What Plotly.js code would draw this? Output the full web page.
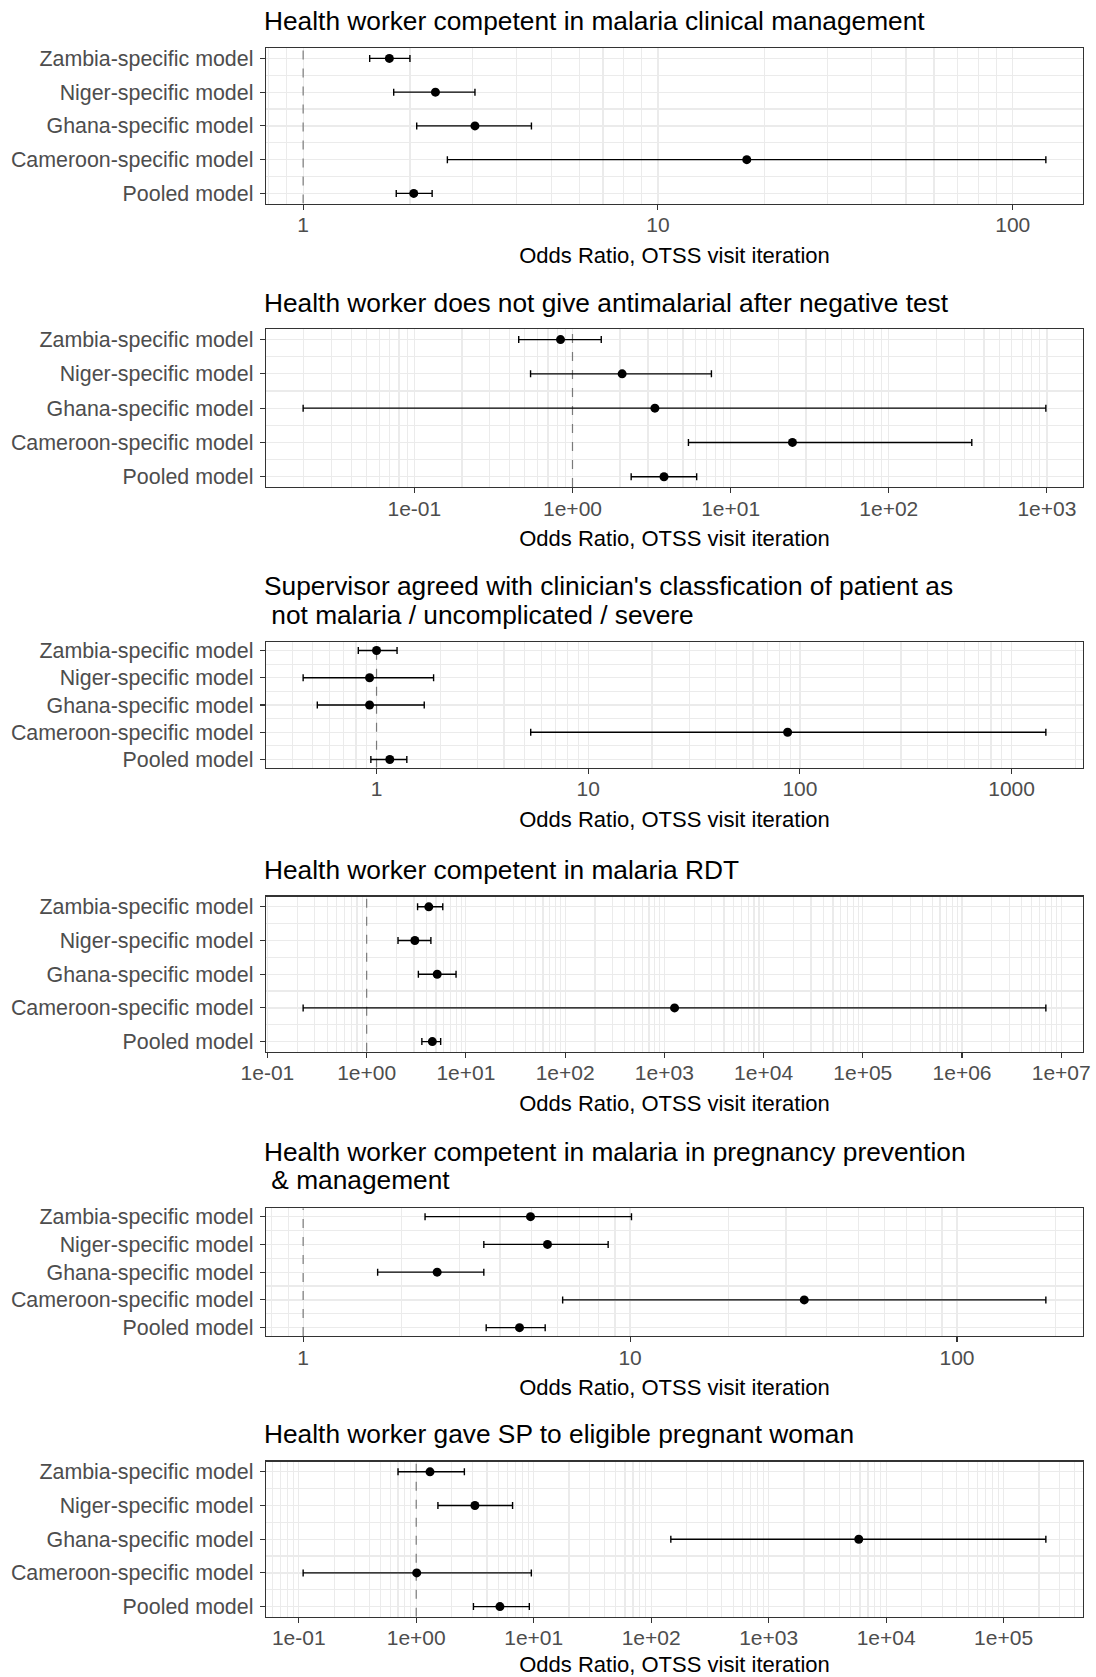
<!DOCTYPE html>
<html>
<head>
<meta charset="utf-8">
<script src="https://cdn.plot.ly/plotly-3.0.1.min.js"></script>
<style>html,body{margin:0;padding:0;background:#fff;}#chart{width:1096px;height:1677px;}</style>
</head>
<body>
<div id="chart"></div>
<script>
// ---------- DATA ----------
const categories = ["Zambia-specific model", "Niger-specific model", "Ghana-specific model", "Cameroon-specific model", "Pooled model"];

const title1 = ["Health worker competent in malaria clinical management"];
const title2 = ["Health worker does not give antimalarial after negative test"];
const title3 = ["Supervisor agreed with clinician's classfication of patient as", " not malaria / uncomplicated / severe"];
const title4 = ["Health worker competent in malaria RDT"];
const title5 = ["Health worker competent in malaria in pregnancy prevention", " & management"];
const title6 = ["Health worker gave SP to eligible pregnant woman"];

const or1 = [1.75, 2.36, 3.05, 17.8, 2.05];
const lo1 = [1.54, 1.80, 2.09, 2.55, 1.83];
const hi1 = [2.00, 3.05, 4.40, 124, 2.31];

const or2 = [0.84, 2.06, 3.32, 24.6, 3.79];
const lo2 = [0.457, 0.543, 0.0198, 5.41, 2.35];
const hi2 = [1.52, 7.56, 985, 335, 6.1];

const or3 = [1.0, 0.927, 0.927, 87.5, 1.155];
const lo3 = [0.82, 0.45, 0.525, 5.35, 0.94];
const hi3 = [1.25, 1.86, 1.68, 1452, 1.39];

const or4 = [4.23, 3.06, 5.14, 1268, 4.59];
const lo4 = [3.26, 2.07, 3.32, 0.229, 3.6];
const hi4 = [5.85, 4.44, 7.96, 7.0e6, 5.57];

const or5 = [4.96, 5.59, 2.57, 34.1, 4.59];
const lo5 = [2.36, 3.57, 1.69, 6.22, 3.63];
const hi5 = [10.1, 8.57, 3.57, 187, 5.5];

const or6 = [1.31, 3.16, 5850, 1.01, 5.16];
const lo6 = [0.70, 1.53, 147, 0.109, 3.07];
const hi6 = [2.57, 6.61, 229000, 9.55, 9.18];

const ticks1 = ["1", "10", "100"];
const ticks2 = ["1e-01", "1e+00", "1e+01", "1e+02", "1e+03"];
const ticks3 = ["1", "10", "100", "1000"];
const ticks4 = ["1e-01", "1e+00", "1e+01", "1e+02", "1e+03", "1e+04", "1e+05", "1e+06", "1e+07"];
const ticks5 = ["1", "10", "100"];
const ticks6 = ["1e-01", "1e+00", "1e+01", "1e+02", "1e+03", "1e+04", "1e+05"];

const axisTitle = "Odds Ratio, OTSS visit iteration";
const refLine = 1;

// ---------- LAYOUT (pixel geometry) ----------
const W = 1096, H = 1677;
const boxLeft = 266, boxRight = 1083;
const panels = [
  {title: title1, or: or1, lo: lo1, hi: hi1, ticks: ticks1, top: 48.3, bot: 203.5, titleY: [21.5]},
  {title: title2, or: or2, lo: lo2, hi: hi2, ticks: ticks2, top: 329.3, bot: 487, titleY: [303.5]},
  {title: title3, or: or3, lo: lo3, hi: hi3, ticks: ticks3, top: 642.3, bot: 767.7, titleY: [586, 615]},
  {title: title4, or: or4, lo: lo4, hi: hi4, ticks: ticks4, top: 896.7, bot: 1051.7, titleY: [870.2]},
  {title: title5, or: or5, lo: lo5, hi: hi5, ticks: ticks5, top: 1208.3, bot: 1336, titleY: [1151.8, 1180.2]},
  {title: title6, or: or6, lo: lo6, hi: hi6, ticks: ticks6, top: 1461.7, bot: 1616.7, titleY: [1433.5]}
];

const FONT = "Liberation Sans, Arial, sans-serif";
const GRID = "#EBEBEB";
const DARK = "#333333";

const data = [];
const layout = {
  width: W, height: H,
  margin: {l: 0, r: 0, t: 0, b: 0, pad: 0},
  paper_bgcolor: "#ffffff", plot_bgcolor: "#ffffff",
  showlegend: false,
  font: {family: FONT, color: "#000000"},
  annotations: []
};

const yIdx = categories.map((c, i) => i);
const nCat = categories.length;
const yPad = 0.3;
const yRange = [nCat - 1 + yPad, -yPad];

panels.forEach((p, k) => {
  const n = k + 1;
  const xa = "x" + (n === 1 ? "" : n), ya = "y" + (n === 1 ? "" : n);
  const xKey = "xaxis" + (n === 1 ? "" : n), yKey = "yaxis" + (n === 1 ? "" : n);

  // ggplot-like range: data (incl. reference line) with 5% expansion in log space
  const lmin = Math.log10(Math.min(refLine, ...p.lo));
  const lmax = Math.log10(Math.max(refLine, ...p.hi));
  const ex = (lmax - lmin) * 0.05;
  const r0 = lmin - ex, r1 = lmax + ex;

  const minorVals = [];
  for (let d = Math.floor(r0); d <= Math.ceil(r1); d++) {
    for (let m = 1; m <= 9; m++) minorVals.push(m * Math.pow(10, d));
  }

  // dashed reference line at OR = 1 (drawn under the estimates, above the grid)
  data.push({
    type: "scatter", mode: "lines",
    x: [refLine, refLine], y: yRange, xaxis: xa, yaxis: ya,
    line: {color: "#7A7A7A", width: 1.2, dash: "dash"},
    hoverinfo: "skip", cliponaxis: true
  });

  data.push({
    type: "scatter", mode: "markers",
    x: p.or, y: yIdx, xaxis: xa, yaxis: ya,
    marker: {color: "#000000", size: 9},
    error_x: {
      type: "data", symmetric: false,
      array: p.hi.map((h, i) => h - p.or[i]),
      arrayminus: p.lo.map((l, i) => p.or[i] - l),
      color: "#000000", thickness: 1.4, width: 3.5
    },
    hoverinfo: "x+y"
  });

  layout[xKey] = {
    type: "log", range: [r0, r1],
    domain: [boxLeft / W, boxRight / W],
    anchor: ya,
    tickmode: "array", tickvals: p.ticks.map(Number), ticktext: p.ticks,
    ticks: "outside", ticklen: 5, tickwidth: 1.1, tickcolor: DARK,
    ticklabelstandoff: -3,
    tickfont: {family: FONT, size: 21, color: "#4D4D4D"},
    showgrid: true, gridcolor: GRID, gridwidth: 1.2,
    minor: {tickmode: "array", tickvals: minorVals, showgrid: true, gridcolor: GRID, gridwidth: 1.2, ticks: ""},
    showline: true, mirror: true, linecolor: DARK, linewidth: 1.3,
    zeroline: false,
    title: {text: axisTitle, font: {family: FONT, size: 22, color: "#000000"}, standoff: 12},
    automargin: false
  };
  layout[yKey] = {
    range: yRange,
    domain: [1 - p.bot / H, 1 - p.top / H],
    anchor: xa,
    tickmode: "array", tickvals: yIdx, ticktext: categories,
    ticks: "outside", ticklen: 5, tickwidth: 1.1, tickcolor: DARK,
    ticklabelstandoff: 2,
    tickfont: {family: FONT, size: 21.4, color: "#4D4D4D"},
    showgrid: true, gridcolor: GRID, gridwidth: 1.2,
    minor: {tickmode: "array", tickvals: yIdx.slice(1).map(v => v - 0.5), showgrid: true, gridcolor: GRID, gridwidth: 1.2, ticks: ""},
    showline: true, mirror: true, linecolor: DARK, linewidth: 1.3,
    zeroline: false, automargin: false
  };

  p.title.forEach((line, j) => {
    layout.annotations.push({
      text: line.replace(/^ /, "\u00A0"),
      xref: "paper", yref: "paper",
      x: (boxLeft - 4) / W, y: 1 - p.titleY[j] / H,
      xanchor: "left", yanchor: "middle",
      showarrow: false,
      font: {family: FONT, size: 26.3, color: "#000000"}
    });
  });
});

Plotly.newPlot("chart", data, layout, {staticPlot: true, displayModeBar: false});
</script>
</body>
</html>
